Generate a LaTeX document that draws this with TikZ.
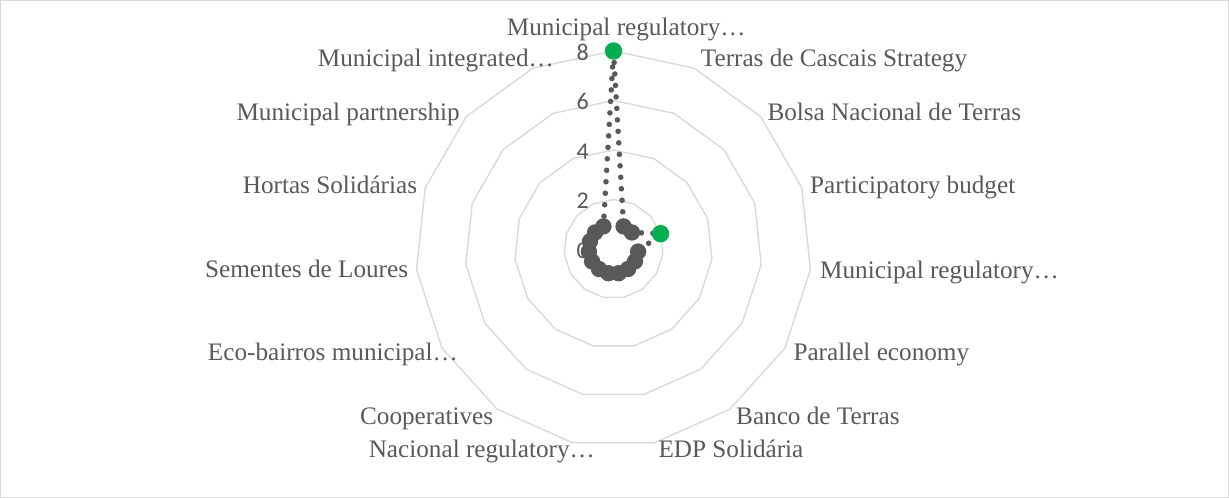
\documentclass[tikz,border=0pt]{standalone}
\usepackage{fontspec}
\setmainfont{Liberation Serif}
\newfontfamily\tickfont{Carlito}
\usetikzlibrary{calc}
\definecolor{txtgray}{HTML}{595959}
\definecolor{gridgray}{HTML}{D9D9D9}
\definecolor{markgreen}{HTML}{00B050}
\tikzset{
  catlabel/.style={inner sep=0pt, text=txtgray, font=\fontsize{25.2}{30}\selectfont},
  ticklabel/.style={inner sep=0pt, text=txtgray, anchor=east, font=\tickfont\fontsize{24}{28}\selectfont},
  gridring/.style={draw=gridgray, line width=1.4pt, line join=miter},
  dataline/.style={draw=txtgray, line width=5.6pt, line cap=round, dash pattern=on 0pt off 11.5pt},
  graymark/.style={fill=txtgray},
  greenmark/.style={fill=markgreen}
}
\begin{document}
\begin{tikzpicture}[x=1pt,y=-1pt]
\useasboundingbox (0,0) rectangle (1229,498);
\draw[gridgray, line width=1pt] (0.5,0.5) rectangle (1228.5,497.5);
\coordinate (C) at (613.5,249);
% grid rings
\foreach \v in {2,4,6,8}{
  \draw[gridring] ($(C)+(-90:{\v*24.75})$) \foreach \k in {1,...,14}{ -- ($(C)+(-90+24*\k:{\v*24.75})$)} -- cycle;
}
% tick labels
\node[ticklabel] (t0) at (589,250.5) {0};
\node[ticklabel] (t2) at (589,201) {2};
\node[ticklabel] (t4) at (589,151.5) {4};
\node[ticklabel] (t6) at (589,101.5) {6};
\node[ticklabel] (t8) at (589,52) {8};
% category labels
\node[catlabel, anchor=base west] (c0) at (506.7,35) {Municipal regulatory…};
\node[catlabel, anchor=base west] (c1) at (700.7,66) {Terras de Cascais Strategy};
\node[catlabel, anchor=base west] (c2) at (767.3,120) {Bolsa Nacional de Terras};
\node[catlabel, anchor=base west] (c3) at (810,193) {Participatory budget};
\node[catlabel, anchor=base west] (c4) at (820,278) {Municipal regulatory…};
\node[catlabel, anchor=base west] (c5) at (793.3,360) {Parallel economy};
\node[catlabel, anchor=base west] (c6) at (736,424) {Banco de Terras};
\node[catlabel, anchor=base west] (c7) at (658.3,457) {EDP Solidária};
\node[catlabel, anchor=base east] (c8) at (595,457) {Nacional regulatory…};
\node[catlabel, anchor=base east] (c9) at (493.3,424) {Cooperatives};
\node[catlabel, anchor=base east] (c10) at (458,360) {Eco-bairros municipal…};
\node[catlabel, anchor=base east] (c11) at (408.3,277) {Sementes de Loures};
\node[catlabel, anchor=base east] (c12) at (417.3,193) {Hortas Solidárias};
\node[catlabel, anchor=base east] (c13) at (460,120) {Municipal partnership};
\node[catlabel, anchor=base east] (c14) at (554,66) {Municipal integrated…};
% data points
\foreach \k/\val in {0/8,1/1,2/1,3/2,4/1,5/1,6/1,7/1,8/1,9/1,10/1,11/1,12/1,13/1,14/1}{
  \coordinate (p\k) at ($(C)+(-90+24*\k:{\val*24.75})$);
}
\draw[dataline] (p0) -- (p1) -- (p2) -- (p3) -- (p4) -- (p5) -- (p6) -- (p7) -- (p8) -- (p9) -- (p10) -- (p11) -- (p12) -- (p13) -- (p14) -- cycle;
\foreach \k in {1,2,4,5,6,7,8,9,10,11,12,13,14}{
  \fill[graymark] (p\k) circle[radius=8.2pt];
}
\fill[greenmark] (p0) circle[radius=8.7pt];
\fill[greenmark] (p3) circle[radius=8.7pt];
\end{tikzpicture}
\end{document}
